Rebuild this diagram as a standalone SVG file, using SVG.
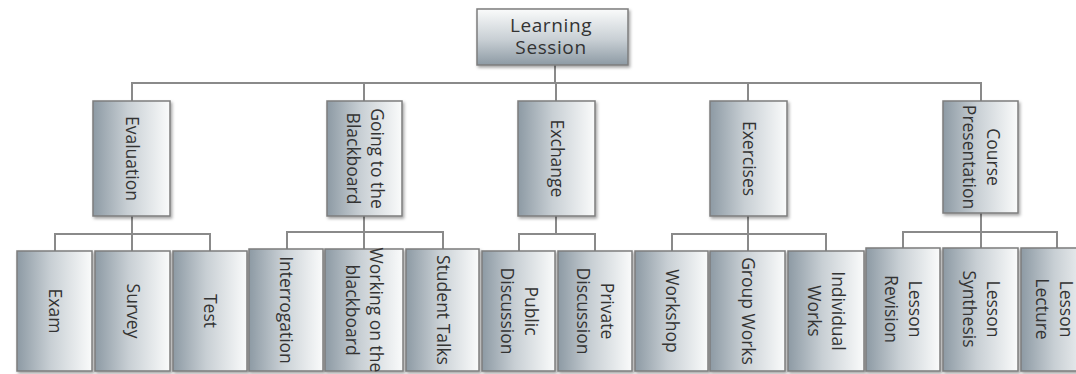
<svg xmlns="http://www.w3.org/2000/svg" width="1076" height="374" viewBox="0 0 1076 374">
<defs>
<linearGradient id="gh" x1="0" y1="0" x2="1" y2="0">
<stop offset="0" stop-color="#8d9aa4"/>
<stop offset="0.45" stop-color="#c8cfd4"/>
<stop offset="1" stop-color="#fafbfb"/>
</linearGradient>
<linearGradient id="gv" x1="0" y1="0" x2="0" y2="1">
<stop offset="0" stop-color="#fafbfb"/>
<stop offset="0.55" stop-color="#c8cfd4"/>
<stop offset="1" stop-color="#8d9aa4"/>
</linearGradient>
<filter id="sh" x="-10%" y="-10%" width="130%" height="130%">
<feDropShadow dx="1.5" dy="2" stdDeviation="1.5" flood-color="#000" flood-opacity="0.35"/>
</filter>
</defs>
<style>
.box{fill:url(#gh);stroke:#7d7d7d;stroke-width:1.5;filter:url(#sh)}
.root{fill:url(#gv);stroke:#7d7d7d;stroke-width:1.5;filter:url(#sh)}
.t{font-family:"Open Sans","DejaVu Sans",sans-serif;font-size:17.5px;fill:#333;text-anchor:middle}
.rt{font-family:"Open Sans","DejaVu Sans",sans-serif;font-size:19px;letter-spacing:0.6px;fill:#333;text-anchor:middle}
.c{fill:none;stroke:#8a8a8a;stroke-width:2}
</style>
<g id="connectors">
<path class="c" d="M555 65V83M132 101V83H981V101M364 83V101M556 83V101M748 83V101"/>
<path class="c" d="M132 216V234M55 251V234H210V251M132 234V251"/>
<path class="c" d="M364 216V232M287 249V232H443V249M364 232V249"/>
<path class="c" d="M556 216V234M519 251V234H595V251"/>
<path class="c" d="M748 216V234M672 251V234H826V251M748 234V251"/>
<path class="c" d="M981 213V232M903 248V232H1057V248M981 232V248"/>
</g>
<g id="n-root"><rect class="root" x="477" y="9" width="151" height="56"/>
<text class="rt" x="551" y="32">Learning</text><text class="rt" x="551" y="54">Session</text></g>

<g id="n-evaluation"><rect class="box" x="93" y="101" width="77" height="115"/>
<text class="t" transform="translate(131.5,158.5) rotate(90)" y="6">Evaluation</text></g>
<g id="n-blackboard"><rect class="box" x="327" y="101" width="75" height="115"/>
<text class="t" transform="translate(364.5,158.5) rotate(90)"><tspan x="0" y="-6">Going to the</tspan><tspan x="0" y="18">Blackboard</tspan></text></g>
<g id="n-exchange"><rect class="box" x="518" y="101" width="77" height="115"/>
<text class="t" transform="translate(556.5,158.5) rotate(90)" y="6">Exchange</text></g>
<g id="n-exercises"><rect class="box" x="710" y="101" width="77" height="115"/>
<text class="t" transform="translate(748.5,158.5) rotate(90)" y="6">Exercises</text></g>
<g id="n-course"><rect class="box" x="943" y="101" width="75" height="112"/>
<text class="t" transform="translate(980.5,157) rotate(90)"><tspan x="0" y="-6">Course</tspan><tspan x="0" y="18">Presentation</tspan></text></g>

<g id="n-exam"><rect class="box" x="17" y="251" width="75" height="120"/>
<text class="t" transform="translate(54.5,311) rotate(90)" y="6">Exam</text></g>
<g id="n-survey"><rect class="box" x="95" y="251" width="75" height="120"/>
<text class="t" transform="translate(132.5,311) rotate(90)" y="6">Survey</text></g>
<g id="n-test"><rect class="box" x="173" y="251" width="74" height="120"/>
<text class="t" transform="translate(210,311) rotate(90)" y="6">Test</text></g>
<g id="n-interrogation"><rect class="box" x="249" y="249" width="74" height="122"/>
<text class="t" transform="translate(286,310) rotate(90)" y="6">Interrogation</text></g>
<g id="n-working"><rect class="box" x="325" y="249" width="78" height="122"/>
<text class="t" transform="translate(364,310) rotate(90)"><tspan x="0" y="-6">Working on the</tspan><tspan x="0" y="18">blackboard</tspan></text></g>
<g id="n-studenttalks"><rect class="box" x="406" y="249" width="73" height="122"/>
<text class="t" transform="translate(442.5,310) rotate(90)" y="6">Student Talks</text></g>
<g id="n-public"><rect class="box" x="482" y="251" width="73" height="120"/>
<text class="t" transform="translate(518.5,311) rotate(90)"><tspan x="0" y="-6">Public</tspan><tspan x="0" y="18">Discussion</tspan></text></g>
<g id="n-private"><rect class="box" x="558" y="251" width="74" height="120"/>
<text class="t" transform="translate(595,311) rotate(90)"><tspan x="0" y="-6">Private</tspan><tspan x="0" y="18">Discussion</tspan></text></g>
<g id="n-workshop"><rect class="box" x="635" y="251" width="73" height="120"/>
<text class="t" transform="translate(671.5,311) rotate(90)" y="6">Workshop</text></g>
<g id="n-groupworks"><rect class="box" x="710" y="251" width="75" height="120"/>
<text class="t" transform="translate(747.5,311) rotate(90)" y="6">Group Works</text></g>
<g id="n-individual"><rect class="box" x="788" y="251" width="76" height="120"/>
<text class="t" transform="translate(826,311) rotate(90)"><tspan x="0" y="-6">Individual</tspan><tspan x="0" y="18">Works</tspan></text></g>
<g id="n-revision"><rect class="box" x="866" y="248" width="74" height="123"/>
<text class="t" transform="translate(903,309) rotate(90)"><tspan x="0" y="-6">Lesson</tspan><tspan x="0" y="18">Revision</tspan></text></g>
<g id="n-synthesis"><rect class="box" x="943" y="248" width="75" height="123"/>
<text class="t" transform="translate(980.5,309) rotate(90)"><tspan x="0" y="-6">Lesson</tspan><tspan x="0" y="18">Synthesis</tspan></text></g>
<g id="n-lecture"><rect class="box" x="1021" y="248" width="74" height="123"/>
<text class="t" transform="translate(1054,309) rotate(90)"><tspan x="0" y="-6">Lesson</tspan><tspan x="0" y="18">Lecture</tspan></text></g>
</svg>
